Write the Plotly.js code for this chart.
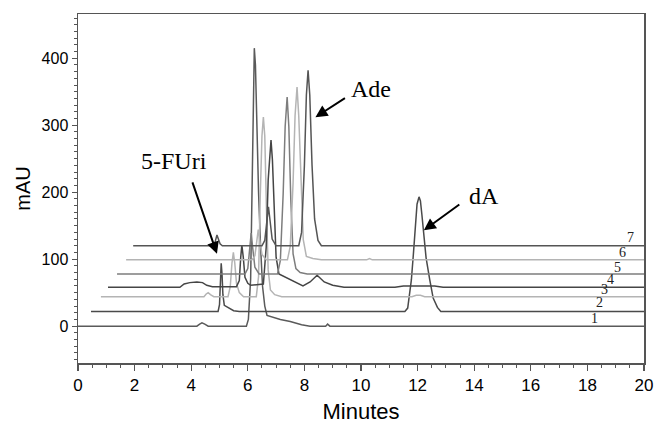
<!DOCTYPE html>
<html>
<head>
<meta charset="utf-8">
<script src="https://cdn.plot.ly/plotly-3.0.1.min.js"></script>
<style>
  html, body { margin: 0; padding: 0; background: #fff; }
  #chart { width: 655px; height: 427px; }
</style>
</head>
<body>
<div id="chart"></div>
<script>
// Run labels, baselines (mAU offset of each stacked run)
const runLabels = ["1", "2", "3", "4", "5", "6", "7"];
const baselines = [0, 22, 44, 58, 78, 99, 120];

// Each run: displayed time (min) and signal above its own baseline (mAU)
const t1 = [0, 4.2, 4.3, 4.38, 4.48, 4.6, 5.95, 6.02, 6.1, 6.15, 6.19, 6.23, 6.27, 6.32, 6.38, 6.45, 6.52, 6.6, 6.68, 7.15, 7.5, 7.9, 8.2, 8.75, 8.82, 8.9, 20];
const v1 = [0, 0, 3, 5, 3, 0, 0, 10, 70, 230, 370, 415, 390, 300, 200, 120, 60, 30, 16, 10, 7, 2, 0, 0, 3, 0, 0];

const t2 = [0.46, 4.95, 5.0, 5.03, 5.06, 5.09, 5.12, 5.17, 5.32, 5.5, 5.7, 11.55, 11.65, 11.72, 11.78, 11.85, 11.9, 11.98, 12.05, 12.1, 12.15, 12.2, 12.3, 12.43, 12.55, 12.7, 12.82, 20];
const v2 = [0, 0, 10, 50, 72, 55, 25, 9, 5, 1, 0, 0, 5, 25, 47, 85, 121, 160, 171, 165, 145, 121, 80, 47, 20, 6, 0, 0];

const t3 = [0.81, 4.45, 4.53, 4.6, 4.68, 4.8, 5.3, 5.38, 5.44, 5.49, 5.54, 5.6, 5.7, 5.85, 6.3, 6.38, 6.44, 6.5, 6.55, 6.6, 6.66, 6.72, 6.8, 6.95, 7.2, 11.8, 11.95, 12.1, 12.25, 20];
const v3 = [0, 0, 4, 6, 3, 0, 0, 15, 50, 66, 50, 20, 6, 0, 0, 30, 150, 240, 268, 240, 130, 40, 10, 3, 0, 0, 2, 2, 0, 0];

const t4 = [1.06, 3.6, 3.75, 3.95, 4.2, 4.4, 4.55, 4.75, 5.6, 5.7, 5.75, 5.79, 5.84, 5.9, 6.0, 6.1, 6.55, 6.65, 6.72, 6.77, 6.82, 6.87, 6.93, 7.0, 7.1, 7.3, 7.6, 7.95, 8.2, 8.45, 8.7, 9.0, 9.4, 11.2, 11.5, 12.6, 12.9, 20];
const v4 = [0, 0, 5, 7, 8, 7, 3, 1, 1, 10, 45, 63, 45, 15, 6, 3, 5, 60, 160, 200, 220, 190, 110, 45, 20, 16, 10, 2, 8, 18, 8, 3, 0, 0, 2, 2, 0, 0];

const t5 = [1.38, 5.9, 6.0, 6.07, 6.12, 6.17, 6.25, 6.4, 7.05, 7.15, 7.25, 7.32, 7.39, 7.45, 7.52, 7.6, 7.7, 7.85, 8.1, 20];
const v5 = [0, 0, 8, 45, 61, 40, 10, 0, 0, 20, 120, 220, 264, 220, 110, 30, 8, 2, 0, 0];

const t6 = [1.7, 6.15, 6.25, 6.32, 6.37, 6.42, 6.5, 6.65, 7.4, 7.5, 7.6, 7.67, 7.74, 7.8, 7.88, 7.96, 8.07, 8.3, 8.6, 10.2, 10.3, 10.4, 20];
const v6 = [0, 0, 6, 32, 45, 30, 8, 0, 0, 20, 115, 215, 258, 215, 110, 30, 5, 2, 0, 0, 2, 0, 0];

const t7 = [1.95, 4.8, 4.86, 4.91, 4.96, 5.02, 5.1, 6.5, 6.6, 6.68, 6.73, 6.78, 6.86, 7.0, 7.8, 7.9, 8.0, 8.07, 8.13, 8.19, 8.27, 8.36, 8.48, 8.6, 20];
const v7 = [0, 0, 8, 16, 10, 3, 0, 0, 8, 42, 58, 40, 10, 0, 0, 20, 120, 225, 262, 225, 120, 40, 8, 0, 0];

const xTickVals = [0, 2, 4, 6, 8, 10, 12, 14, 16, 18, 20];
const yTickVals = [0, 100, 200, 300, 400];

const times = [t1, t2, t3, t4, t5, t6, t7];
const signals = [v1, v2, v3, v4, v5, v6, v7];
const colors = ["#5a5a5a", "#4a4a4a", "#b4b4b4", "#454545", "#7d7d7d", "#b4b4b4", "#555555"];

const traces = times.map((t, i) => ({
  x: t,
  y: signals[i].map(v => v + baselines[i]),
  type: "scatter",
  mode: "lines",
  line: { color: colors[i], width: 1.5 },
  hoverinfo: "skip",
  showlegend: false
}));

// run-number labels near the right end of each baseline
const labelPos = [[18.24, 11.5], [18.42, 35], [18.62, 54], [18.8, 70], [19.07, 87], [19.24, 110], [19.54, 133]];
const annotations = runLabels.map((lab, i) => ({
  x: labelPos[i][0], y: labelPos[i][1], xref: "x", yref: "y",
  text: lab, showarrow: false,
  font: { family: "Liberation Serif, Times New Roman, serif", size: 14, color: "#222" }
}));

const serif = { family: "Liberation Serif, Times New Roman, serif", size: 24, color: "#000" };
annotations.push(
  { x: 3.4, y: 246, xref: "x", yref: "y", text: "5-FUri", showarrow: false, font: serif },
  { x: 10.34, y: 354, xref: "x", yref: "y", text: "Ade", showarrow: false, font: serif },
  { x: 14.34, y: 195, xref: "x", yref: "y", text: "dA", showarrow: false, font: serif },
  { x: 4.91, y: 108, xref: "x", yref: "y", text: "", showarrow: true, ax: -25, ay: -73,
    arrowhead: 2, arrowsize: 1.2, arrowwidth: 2, arrowcolor: "#000" },
  { x: 8.39, y: 312, xref: "x", yref: "y", text: "", showarrow: true, ax: 31, ay: -20,
    arrowhead: 2, arrowsize: 1.2, arrowwidth: 2, arrowcolor: "#000" },
  { x: 12.22, y: 143, xref: "x", yref: "y", text: "", showarrow: true, ax: 37, ay: -27,
    arrowhead: 2, arrowsize: 1.2, arrowwidth: 2, arrowcolor: "#000" }
);

const layout = {
  width: 655, height: 427,
  margin: { l: 78, r: 11, t: 14, b: 64 },
  paper_bgcolor: "#fff", plot_bgcolor: "#fff",
  font: { family: "Liberation Sans, Arial, sans-serif", color: "#000" },
  xaxis: {
    range: [0, 20], tickvals: xTickVals, ticktext: xTickVals.map(String),
    ticks: "outside", ticklen: 6, tickwidth: 1.3, tickcolor: "#555",
    minor: { dtick: 0.5, tick0: 0, ticks: "outside", ticklen: 3, tickcolor: "#555", tickwidth: 1 },
    showline: true, mirror: true, linecolor: "#555", linewidth: 1.5,
    showgrid: false, zeroline: false,
    tickfont: { size: 17, family: "Liberation Sans, Arial, sans-serif" },
    title: { text: "Minutes", font: { size: 22, family: "Liberation Sans, Arial, sans-serif" }, standoff: 9 }
  },
  yaxis: {
    range: [-55, 466], tickvals: yTickVals, ticktext: yTickVals.map(String),
    ticks: "outside", ticklen: 5, tickwidth: 1.3, tickcolor: "#555",
    minor: { dtick: 10, tick0: 0, ticks: "outside", ticklen: 3, tickcolor: "#555", tickwidth: 1 },
    showline: true, mirror: true, linecolor: "#555", linewidth: 1.5,
    showgrid: false, zeroline: false,
    tickfont: { size: 16, family: "Liberation Sans, Arial, sans-serif" },
    title: { text: "mAU", font: { size: 20, family: "Liberation Sans, Arial, sans-serif" }, standoff: 5 }
  },
  annotations: annotations
};

Plotly.newPlot("chart", traces, layout, { displayModeBar: false, staticPlot: true });
</script>
</body>
</html>
